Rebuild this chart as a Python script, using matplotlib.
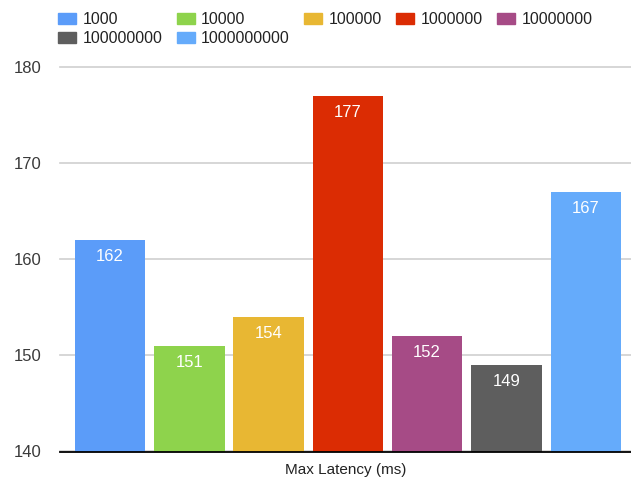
import matplotlib.pyplot as plt
import matplotlib.patches as mpatches
import numpy as np

plt.rcParams['font.family'] = ['Liberation Sans', 'DejaVu Sans']

labels = ['1000', '10000', '100000', '1000000', '10000000', '100000000', '1000000000']
latency = [162, 151, 154, 177, 152, 149, 167]
colors = ['#5B9CF9', '#8ED34C', '#E8B733', '#DB2C03', '#A64B86', '#5E5E5E', '#65ABFB']
yticks = [140, 150, 160, 170, 180]

fig = plt.figure(figsize=(6.31, 4.83), dpi=100)
ax = fig.add_axes([60 / 631, 31.5 / 483, 571 / 631, 384 / 483])

x = np.arange(len(labels))
bars = ax.bar(x, latency, width=0.89, color=colors, zorder=3)

for b, v in zip(bars, latency):
    ax.annotate(str(v), (b.get_x() + b.get_width() / 2, v), xytext=(0, -12),
                textcoords='offset points', ha='center', va='center',
                color='white', fontsize=12, zorder=4)

ax.set_ylim(140, 180)
ax.set_xlim(-0.63, 6.57)
ax.set_yticks(yticks)
ax.set_xticks([])
ax.grid(axis='y', color='#CFCFCF', linewidth=1.2, zorder=0)
for gl in ax.get_ygridlines():
    gl.set_clip_on(False)
ax.spines[['top', 'right', 'left']].set_visible(False)
ax.spines['bottom'].set_color('black')
ax.spines['bottom'].set_linewidth(1.3)
ax.spines['bottom'].set_zorder(5)
ax.tick_params(axis='y', length=0, pad=13, labelsize=12, labelcolor='#3a3a3a')
ax.set_xlabel('Max Latency (ms)', fontsize=11, color='#222222', labelpad=8)

# legend: two rows, filled left to right
order = [0, 5, 1, 6, 2, 3, 4]
handles = [mpatches.Patch(color=colors[i], label=labels[i]) for i in order]
fig.legend(handles=handles, ncol=5, loc='upper left', frameon=False,
           bbox_to_anchor=(58 / 631, 1 - 12 / 483), borderpad=0, borderaxespad=0,
           fontsize=11.4, handlelength=1.15, handleheight=0.76, handletextpad=0.4,
           columnspacing=0.9, labelspacing=0.25, labelcolor='#222222')

plt.savefig('out.png', dpi=100)
